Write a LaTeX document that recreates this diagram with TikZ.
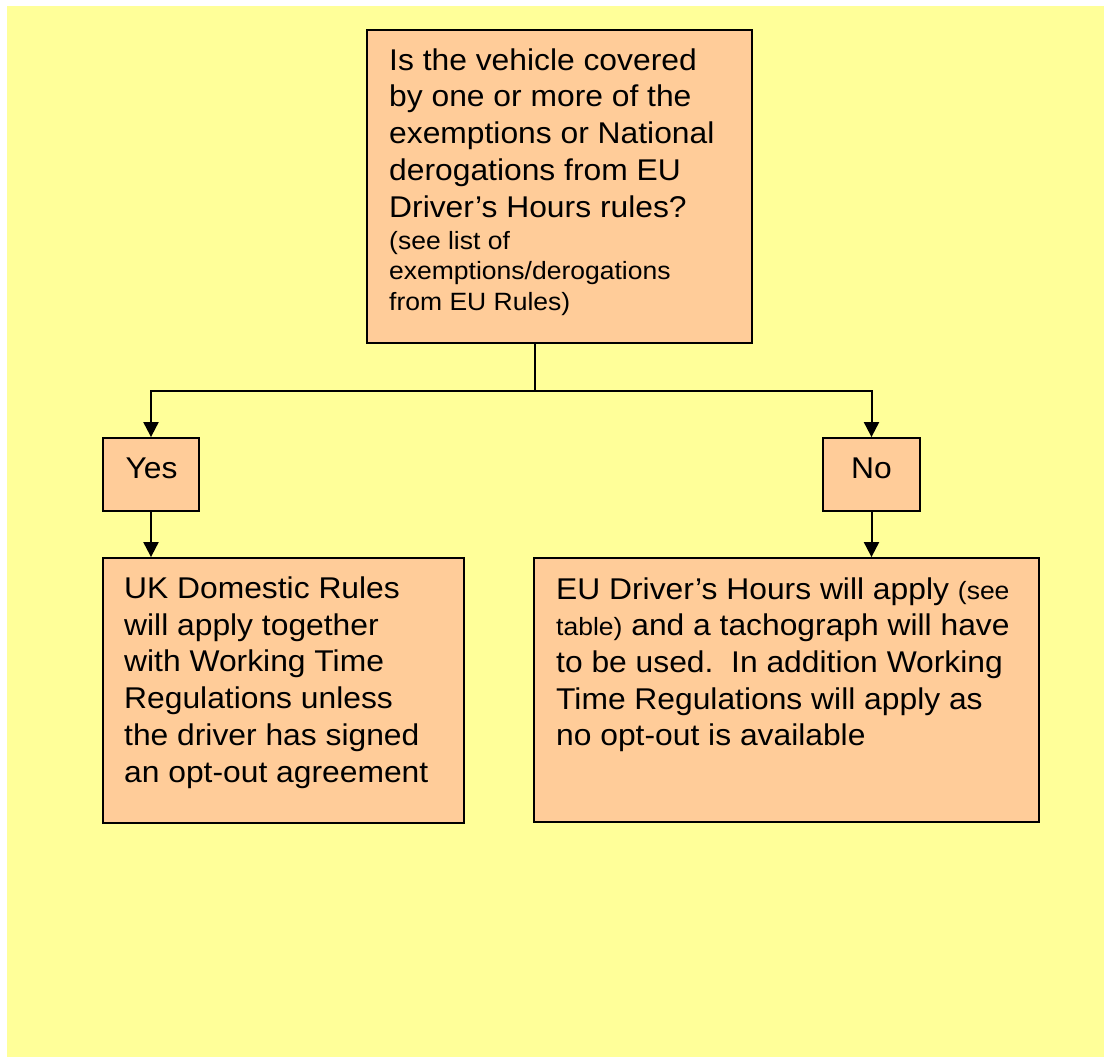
\documentclass[tikz,border=0pt]{standalone}
\usepackage{fontspec}
\setmainfont{Liberation Sans}[FakeStretch=1.06]
\usetikzlibrary{arrows.meta}
\definecolor{pagebg}{HTML}{FFFF99}
\definecolor{boxfill}{HTML}{FFCC99}
\newcommand{\bigtxt}{\fontsize{30}{36.7}\selectfont}
\newcommand{\smalltxt}{\fontsize{25}{30.5}\selectfont}
\begin{document}
\begin{tikzpicture}[x=1pt,y=-1pt,
  box/.style={draw=black,fill=boxfill,line width=1.8pt,inner sep=0pt,
    minimum width=#1},
  % multi-line labels are placed by the baseline of their last line
  label/.style={anchor=base west,align=left,inner sep=0pt,font=\bigtxt},
  flow/.style={line width=2pt,-{Triangle[width=15pt,length=15pt]}},
  stem/.style={line width=2pt}]
  % page and background
  \useasboundingbox (0,0) rectangle (1104,1057);
  \fill[white] (0,0) rectangle (1104,1057);
  \fill[pagebg] (7,6) rectangle (1104,1057);

  % question box
  \node[box=385pt,minimum height=313pt] (q) at (559.5,186.5) {};
  \node[label] (qtext) at (389,217)
    {Is the vehicle covered\\by one or more of the\\exemptions or National\\derogations from EU\\Driver’s Hours rules?};
  \node[label,font=\smalltxt] (qnote) at (389,310)
    {(see list of\\exemptions/derogations\\from EU Rules)};

  % answer boxes
  \node[box=96pt,minimum height=73pt] (yes) at (151,474.5) {};
  \node[anchor=base,inner sep=0pt,font=\bigtxt] (yestext) at (151.5,478) {Yes};
  \node[box=97pt,minimum height=73pt] (no) at (871.5,474.5) {};
  \node[anchor=base,inner sep=0pt,font=\bigtxt] (notext) at (871.5,478) {No};

  % outcome boxes
  \node[box=361pt,minimum height=265pt] (dom) at (283.5,690.5) {};
  \node[label] (domtext) at (124,782)
    {UK Domestic Rules\\will apply together\\with Working Time\\Regulations unless\\the driver has signed\\an opt-out agreement};
  \node[box=505pt,minimum height=264pt] (eu) at (786.5,690) {};
  \node[label] (eutext) at (556,745.8)
    {EU Driver’s Hours will apply {\smalltxt(see}\\{\smalltxt table)} and a tachograph will have\\to be used.\ \ In addition Working\\Time Regulations will apply as\\no opt-out is available};

  % connectors
  \coordinate (split) at (535,391);
  \draw[stem] (q.south -| split) -- (split);
  \draw[flow] (split) -| (yes.north);
  \draw[flow] (split) -| (no.north);
  \draw[flow] (yes.south) -- (yes.south |- dom.north);
  \draw[flow] (no.south) -- (no.south |- eu.north);
\end{tikzpicture}
\end{document}
